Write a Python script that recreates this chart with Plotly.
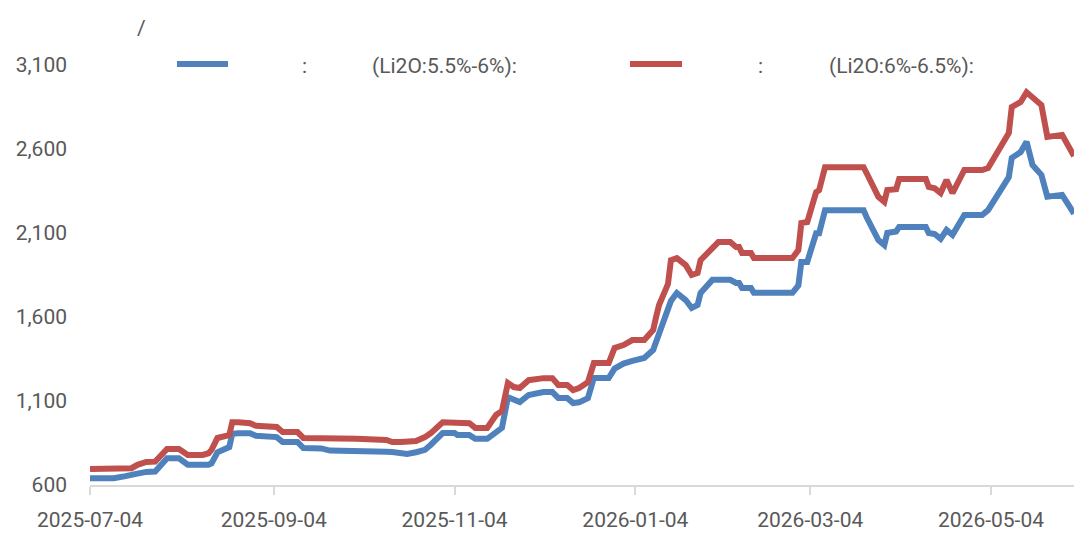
import plotly.graph_objects as go

# daily spot price series
dates = [
    "2025-07-04", "2025-07-12", "2025-07-16", "2025-07-18", "2025-07-20", "2025-07-23",
    "2025-07-26", "2025-07-30", "2025-08-03", "2025-08-06", "2025-08-11", "2025-08-13",
    "2025-08-14", "2025-08-16", "2025-08-20", "2025-08-21", "2025-08-23", "2025-08-27",
    "2025-08-29", "2025-09-01", "2025-09-05", "2025-09-07", "2025-09-12", "2025-09-14",
    "2025-09-20", "2025-09-23", "2025-10-02", "2025-10-12", "2025-10-14", "2025-10-17",
    "2025-10-19", "2025-10-22", "2025-10-25", "2025-10-27", "2025-10-31", "2025-11-04",
    "2025-11-05", "2025-11-09", "2025-11-11", "2025-11-15", "2025-11-18", "2025-11-20",
    "2025-11-22", "2025-11-24", "2025-11-26", "2025-11-29", "2025-12-04", "2025-12-07",
    "2025-12-09", "2025-12-12", "2025-12-14", "2025-12-16", "2025-12-19", "2025-12-21",
    "2025-12-26", "2025-12-28", "2025-12-31", "2026-01-03", "2026-01-07", "2026-01-10",
    "2026-01-11", "2026-01-12", "2026-01-15", "2026-01-16", "2026-01-18", "2026-01-21",
    "2026-01-23", "2026-01-25", "2026-01-26", "2026-01-30", "2026-02-01", "2026-02-05",
    "2026-02-07", "2026-02-08", "2026-02-09", "2026-02-12", "2026-02-13", "2026-02-26",
    "2026-02-28", "2026-03-01", "2026-03-03", "2026-03-06", "2026-03-07", "2026-03-09",
    "2026-03-22", "2026-03-23", "2026-03-27", "2026-03-29", "2026-03-30", "2026-04-02",
    "2026-04-03", "2026-04-12", "2026-04-13", "2026-04-15", "2026-04-17", "2026-04-19",
    "2026-04-21", "2026-04-25", "2026-05-01", "2026-05-03", "2026-05-10", "2026-05-11",
    "2026-05-14", "2026-05-16", "2026-05-18", "2026-05-21", "2026-05-23", "2026-05-25",
    "2026-05-28", "2026-06-01",
]

price_low = [  # Li2O 5.5%-6%
    640, 640, 653, 657, 668, 678,
    680, 759, 759, 721, 719, 721,
    729, 795, 826, 905, 908, 908,
    893, 890, 885, 856, 856, 820,
    818, 805, 805, 798, 796, 785,
    785, 795, 809, 840, 909, 909,
    897, 897, 875, 875, 910, 940,
    1122, 1107, 1094, 1136, 1153, 1153,
    1118, 1118, 1088, 1092, 1117, 1237,
    1237, 1293, 1323, 1339, 1356, 1404,
    1454, 1492, 1629, 1696, 1743, 1701,
    1654, 1672, 1743, 1821, 1821, 1821,
    1803, 1803, 1773, 1773, 1744, 1744,
    1788, 1928, 1928, 2098, 2098, 2236,
    2236, 2195, 2058, 2028, 2100, 2109,
    2136, 2136, 2100, 2094, 2065, 2118,
    2089, 2207, 2207, 2236, 2433, 2547,
    2582, 2643, 2505, 2446, 2316, 2322,
    2327, 2215,
]

price_high = [  # Li2O 6%-6.5%
    695, 695, 695, 700, 720, 737,
    739, 814, 814, 779, 779, 789,
    809, 880, 897, 974, 974, 968,
    952, 948, 945, 915, 915, 880,
    880, 880, 876, 868, 856, 856,
    856, 862, 885, 909, 974, 974,
    968, 968, 940, 940, 1017, 1041,
    1207, 1183, 1177, 1224, 1236, 1236,
    1195, 1195, 1165, 1177, 1212, 1326,
    1326, 1416, 1433, 1463, 1463, 1522,
    1600, 1671, 1796, 1938, 1950, 1909,
    1850, 1862, 1938, 2016, 2046, 2046,
    2016, 2016, 1981, 1981, 1951, 1951,
    1998, 2159, 2165, 2343, 2355, 2492,
    2492, 2457, 2315, 2285, 2356, 2361,
    2421, 2421, 2374, 2366, 2338, 2415,
    2338, 2475, 2475, 2487, 2695, 2850,
    2880, 2938, 2909, 2862, 2672, 2678,
    2684, 2558,
]

x_ticks = ["2025-07-04", "2025-09-04", "2025-11-04", "2026-01-04", "2026-03-04", "2026-05-04"]
y_ticks = [600, 1100, 1600, 2100, 2600, 3100]

BLUE = "#4F81BD"
RED = "#C0504D"
GREY = "#595959"
FONT = "Roboto, DejaVu Sans Condensed, sans-serif"
FS = 21

# pixel helpers for the legend / unit label placed above the plot area
PLOT_L, PLOT_R, PLOT_T, PLOT_B = 90, 1074, 65, 485


def px_x(x):
    return (x - PLOT_L) / (PLOT_R - PLOT_L)


def px_y(y):
    return (PLOT_B - y) / (PLOT_B - PLOT_T)


fig = go.Figure()
fig.add_trace(go.Scatter(x=dates, y=price_low, mode="lines",
                         line=dict(color=BLUE, width=6, shape="linear"),
                         showlegend=False))
fig.add_trace(go.Scatter(x=dates, y=price_high, mode="lines",
                         line=dict(color=RED, width=6, shape="linear"),
                         showlegend=False))

# legend keys drawn by hand so they match the long swatches of the reference
legend_items = [
    (177, 228, BLUE, 300, 370, "(Li2O:5.5%-6%):"),
    (630, 682, RED, 756, 827, "(Li2O:6%-6.5%):"),
]
for x0, x1, col, colon_x, txt_x, txt in legend_items:
    fig.add_shape(type="line", xref="paper", yref="paper",
                  x0=px_x(x0), x1=px_x(x1), y0=px_y(64), y1=px_y(64),
                  line=dict(color=col, width=6))
    fig.add_annotation(xref="paper", yref="paper", x=px_x(colon_x), y=px_y(66),
                       text=":", showarrow=False, xanchor="left", yanchor="middle",
                       font=dict(family=FONT, size=FS, color=GREY))
    fig.add_annotation(xref="paper", yref="paper", x=px_x(txt_x), y=px_y(66),
                       text=txt, showarrow=False, xanchor="left", yanchor="middle",
                       font=dict(family=FONT, size=FS, color=GREY))

# unit label (only the slash survives in the reference)
fig.add_annotation(xref="paper", yref="paper", x=px_x(135), y=px_y(28),
                   text="/", showarrow=False, xanchor="left", yanchor="middle",
                   font=dict(family=FONT, size=FS, color=GREY))

fig.update_layout(
    width=1074, height=535,
    margin=dict(l=PLOT_L, r=1074 - PLOT_R, t=PLOT_T, b=535 - PLOT_B),
    paper_bgcolor="white", plot_bgcolor="white",
    font=dict(family=FONT, size=FS, color=GREY),
    showlegend=False,
)
fig.update_xaxes(
    type="date", range=[dates[0], dates[-1]],
    tickvals=x_ticks, ticktext=x_ticks,
    showgrid=False, zeroline=False,
    showline=True, linecolor="#D9D9D9", linewidth=2,
    ticks="outside", ticklen=8, tickwidth=2, tickcolor="#D9D9D9",
    ticklabelstandoff=7,
    tickfont=dict(family=FONT, size=FS, color=GREY),
)
fig.update_yaxes(
    range=[600, 3100], tickvals=y_ticks, tickformat=",",
    showgrid=False, zeroline=False, showline=False, ticks="",
    ticklabelstandoff=22,
    tickfont=dict(family=FONT, size=FS, color=GREY),
)

fig.write_html(
    "out.html",
    config={"displayModeBar": False},
    post_script="document.body.style.margin='0';document.body.style.overflow='hidden';",
)
